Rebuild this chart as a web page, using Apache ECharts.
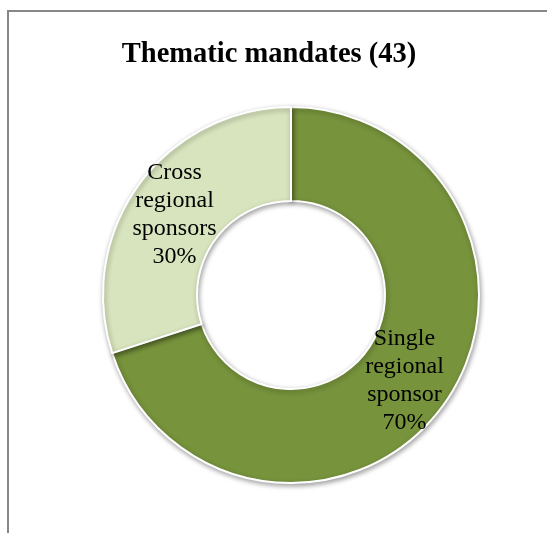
<!DOCTYPE html>
<html>
<head>
<meta charset="utf-8">
<script src="https://cdn.jsdelivr.net/npm/echarts@6/dist/echarts.min.js"></script>
<style>
html,body{margin:0;padding:0;background:#fff;}
#c{width:547px;height:533px;}
</style>
</head>
<body>
<div id="c"></div>
<script>
var titleText = 'Thematic mandates (43)';
var categories = ['Single\nregional\nsponsor', 'Cross\nregional\nsponsors'];
var values = [70, 30];
var colors = ['#77933C', '#D7E4BD'];

var chart = echarts.init(document.getElementById('c'));
chart.setOption({
  animation: false,
  backgroundColor: '#fff',
  graphic: [{
    type: 'rect',
    shape: {x: 8, y: 11, width: 700, height: 700},
    style: {fill: 'none', stroke: '#878787', lineWidth: 2},
    silent: true
  }],
  title: {
    text: titleText,
    left: 264,
    top: 35,
    textAlign: 'center',
    textStyle: {fontFamily: 'Liberation Serif', fontWeight: 'bold', fontSize: 28.5, color: '#000'}
  },
  series: [{
    type: 'pie',
    center: [291, 295],
    radius: [94, 188],
    startAngle: 90,
    clockwise: true,
    data: categories.map(function (c, i) {
      return {name: c, value: values[i], itemStyle: {color: colors[i]}};
    }),
    itemStyle: {
      borderColor: '#fff',
      borderWidth: 2,
      shadowBlur: 5,
      shadowOffsetX: 1,
      shadowOffsetY: 2,
      shadowColor: 'rgba(0,0,0,0.35)'
    },
    label: {
      show: true,
      position: 'inside',
      formatter: function (p) { return p.name + '\n' + p.value + '%'; },
      fontFamily: 'Liberation Serif',
      fontSize: 24,
      lineHeight: 28,
      color: '#000',
      textBorderWidth: 0
    },
    labelLayout: function (p) {
      return p.dataIndex === 1 ? {dy: 4} : {dx: -3, dy: 1};
    },
    labelLine: {show: false},
    emphasis: {disabled: true}
  }]
});
</script>
</body>
</html>
